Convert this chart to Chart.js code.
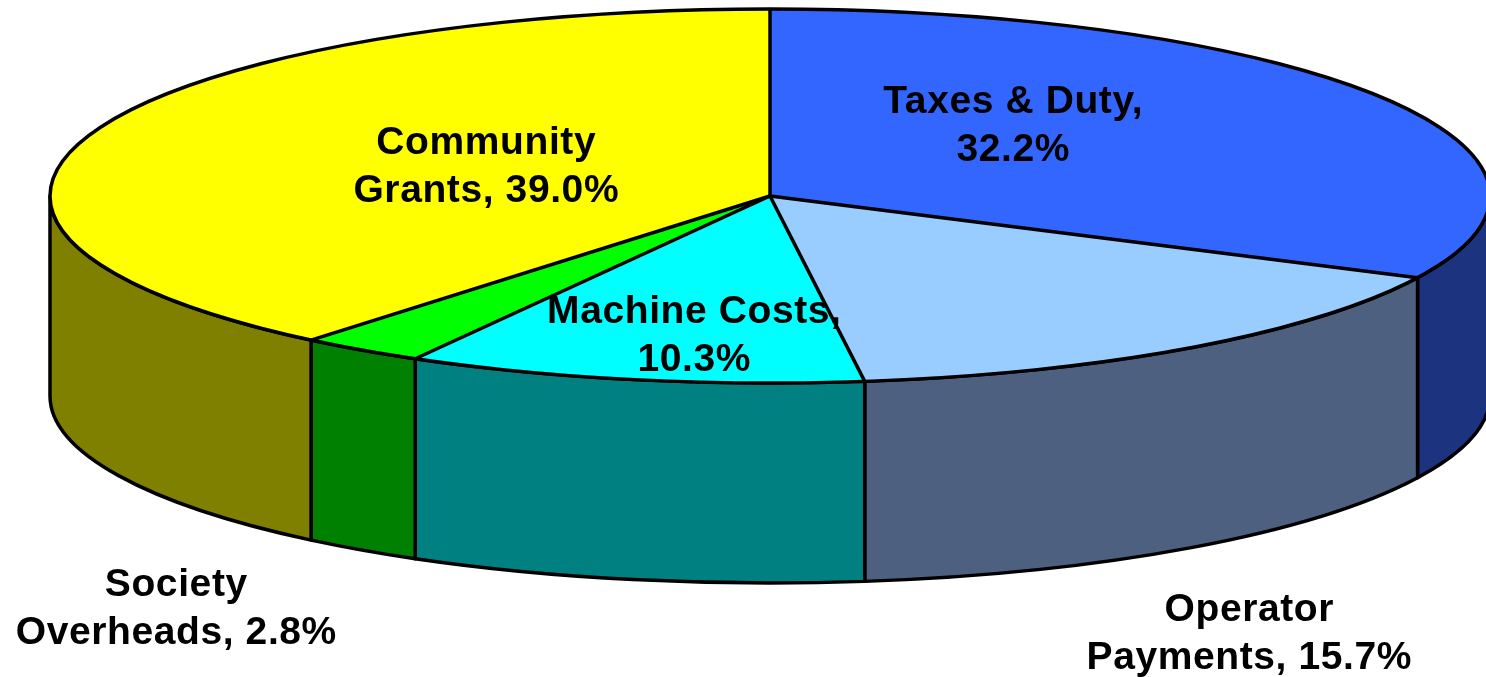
<!DOCTYPE html>
<html>
<head>
<meta charset="utf-8">
<script src="https://cdn.jsdelivr.net/npm/chart.js@4.4.1/dist/chart.umd.min.js"></script>
<style>
  html, body { margin: 0; padding: 0; background: #ffffff; }
  #wrap { width: 1486px; height: 677px; position: relative; }
</style>
</head>
<body>
<div id="wrap"><canvas id="c" width="1486" height="677"></canvas></div>
<script>
// ---- data ----
const categories = ['Taxes & Duty', 'Operator Payments', 'Machine Costs', 'Society Overheads', 'Community Grants'];
const values = [32.2, 15.7, 10.3, 2.8, 39.0];
const topColors = ['#3366FF', '#99CCFF', '#00FFFF', '#00FF00', '#FFFF00'];
const sideColors = ['#1C3380', '#4D6080', '#008080', '#008000', '#808000'];
const labelBreakAfterWord = [3, 1, 2, 1, 1];

// ---- layout (3D projection of the pie) ----
const CX = 770, CY = 196, RX = 720, RY = 187, DEPTH = 200;
const labelAnchors = [[1013, 102], [1249, 610], [694, 312], [176, 585], [486, 143]];
const LINE_H = 48;
const FONT = 'bold 39px "Liberation Sans", Arial, sans-serif';
const LETTER_SP = 0.6;

function labelLines(i) {
  const words = (categories[i] + ', ' + values[i].toFixed(1) + '%').split(' ');
  const k = labelBreakAfterWord[i];
  return [words.slice(0, k).join(' '), words.slice(k).join(' ')];
}

const threeD = {
  id: 'threeD',
  beforeDatasetsDraw(chart) {
    const ctx = chart.ctx;
    const meta = chart.getDatasetMeta(0);
    ctx.save();
    ctx.lineWidth = 3.5;
    ctx.strokeStyle = '#000';
    ctx.lineJoin = 'round';
    meta.data.forEach((arc, i) => {
      const a = Math.max(arc.startAngle, 0);
      const b = Math.min(arc.endAngle, Math.PI);
      if (b <= a) return;
      ctx.beginPath();
      ctx.ellipse(CX, CY, RX, RY, 0, a, b);
      ctx.lineTo(CX + RX * Math.cos(b), CY + DEPTH + RY * Math.sin(b));
      ctx.ellipse(CX, CY + DEPTH, RX, RY, 0, b, a, true);
      ctx.closePath();
      ctx.fillStyle = sideColors[i];
      ctx.fill();
      ctx.stroke();
    });
    ctx.restore();
    const arc0 = meta.data[0];
    const R = arc0.outerRadius;
    const sx = RX / R, sy = RY / R;
    ctx.save();
    ctx.translate(CX - sx * arc0.x, CY - sy * arc0.y);
    ctx.scale(sx, sy);
  },
  afterDatasetsDraw(chart) {
    const ctx = chart.ctx;
    ctx.restore();
    const meta = chart.getDatasetMeta(0);
    ctx.save();
    ctx.lineWidth = 3.5;
    ctx.strokeStyle = '#000';
    ctx.lineJoin = 'round';
    ctx.beginPath();
    ctx.ellipse(CX, CY, RX, RY, 0, 0, Math.PI * 2);
    ctx.stroke();
    meta.data.forEach((arc) => {
      ctx.beginPath();
      ctx.moveTo(CX, CY);
      ctx.lineTo(CX + RX * Math.cos(arc.startAngle), CY + RY * Math.sin(arc.startAngle));
      ctx.stroke();
    });
    // labels
    ctx.fillStyle = '#000';
    ctx.font = FONT;
    ctx.letterSpacing = LETTER_SP + 'px';
    ctx.textAlign = 'center';
    ctx.textBaseline = 'middle';
    meta.data.forEach((arc, i) => {
      const lines = labelLines(i);
      const [x, y] = labelAnchors[i];
      lines.forEach((t, j) => ctx.fillText(t, x + LETTER_SP / 2, y + j * LINE_H));
    });
    ctx.restore();
  }
};

new Chart(document.getElementById('c'), {
  type: 'pie',
  data: {
    labels: categories,
    datasets: [{
      data: values,
      backgroundColor: topColors,
      borderWidth: 0,
      clip: false
    }]
  },
  options: {
    responsive: false,
    animation: false,
    events: [],
    layout: { padding: 0 },
    plugins: { legend: { display: false }, tooltip: { enabled: false } }
  },
  plugins: [threeD]
});
</script>
</body>
</html>
